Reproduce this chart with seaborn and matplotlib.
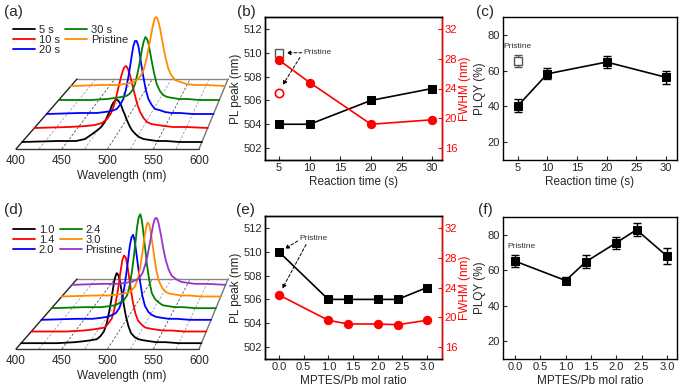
import numpy as np
import pandas as pd
import seaborn as sns
import matplotlib.pyplot as plt
from matplotlib.lines import Line2D

sns.set_theme(style="ticks")
plt.rcParams['font.family'] = ['Liberation Sans', 'DejaVu Sans']

# PL spectra (height above each baseline, px)
wavelength = [400, 440, 460, 470, 478, 484, 488, 492, 495, 498, 500, 502, 504, 506,
              508, 510, 512, 514, 516, 519, 522, 526, 530, 535, 542, 550, 560, 575, 600]

time_labels = ['5 s', '10 s', '20 s', '30 s', 'Pristine']
time_colors = ['black', 'red', 'blue', 'green', '#FF8C00']
spec_5s = [0, 1, 1, 3, 8, 12, 15, 20, 26, 32, 37, 40, 42, 42, 40, 37, 32, 28, 23, 17, 12, 8, 5, 3, 2, 1, 1, 0, 0]
spec_10s = [0, 1, 2, 3, 5, 9, 14, 23, 33, 44, 51, 57, 61, 62, 59, 54, 47, 40, 33, 23, 16, 10, 6, 4, 3, 2, 1, 1, 0]
spec_20s = [0, 1, 1, 2, 3, 5, 9, 15, 24, 37, 47, 58, 68, 73, 73, 68, 58, 47, 37, 24, 15, 9, 5, 4, 2, 1, 1, 0, 0]
spec_30s = [0, 0, 1, 2, 3, 4, 6, 10, 16, 26, 34, 43, 52, 59, 63, 61, 56, 47, 38, 26, 16, 9, 5, 3, 2, 1, 1, 0, 0]
spec_pristine_a = [0, 1, 1, 2, 3, 5, 8, 12, 18, 27, 35, 43, 51, 59, 66, 69, 68, 63, 56, 43, 31, 18, 11, 6, 4, 2, 1, 1, 0]

ratio_labels = ['1.0', '1.4', '2.0', '2.4', '3.0', 'Pristine']
ratio_colors = ['black', 'red', 'blue', 'green', '#FF8C00', '#9933CC']
spec_r10 = [0, 0, 1, 2, 3, 4, 7, 12, 20, 33, 43, 55, 65, 70, 68, 60, 49, 38, 28, 17, 10, 6, 4, 3, 2, 1, 1, 0, 0]
spec_r14 = [0, 0, 1, 2, 3, 4, 8, 13, 22, 36, 47, 60, 71, 76, 74, 65, 53, 41, 30, 18, 11, 7, 4, 3, 2, 1, 1, 0, 0]
spec_r20 = [0, 1, 1, 2, 3, 5, 7, 12, 20, 34, 46, 59, 73, 82, 85, 79, 66, 53, 40, 24, 14, 8, 5, 3, 2, 1, 1, 0, 0]
spec_r24 = [0, 1, 1, 2, 3, 6, 8, 13, 22, 38, 51, 65, 81, 91, 94, 87, 73, 59, 44, 27, 15, 9, 6, 3, 2, 1, 1, 0, 0]
spec_r30 = [0, 1, 1, 2, 3, 4, 6, 10, 16, 26, 36, 47, 59, 69, 74, 72, 64, 53, 42, 26, 16, 9, 5, 3, 2, 1, 1, 0, 0]
spec_pristine_d = [0, 1, 1, 2, 3, 5, 7, 12, 19, 28, 36, 44, 53, 61, 66, 67, 64, 57, 49, 36, 25, 15, 9, 6, 3, 2, 1, 1, 0]

# (b), (c): reaction time series
react_time = [5, 10, 20, 30]
pl_peak_time = [504, 504, 506, 507]
fwhm_time = [27.8, 24.8, 19.2, 19.8]
plqy_time = [40.3, 58.2, 64.8, 56.3]
plqy_time_err = [3.7, 3.0, 3.6, 3.7]
pristine_pl_peak = 510
pristine_fwhm = 23.4
pristine_plqy = 65.3
pristine_plqy_err = 3.5

# (e), (f): MPTES/Pb ratio series
mol_ratio = [0.0, 1.0, 1.4, 2.0, 2.4, 3.0]
pl_peak_ratio = [510, 506, 506, 506, 506, 507]
fwhm_ratio = [23.0, 19.6, 19.1, 19.1, 19.0, 19.6]
plqy_ratio = [65.1, 54.2, 64.8, 75.5, 82.8, 68.0]
plqy_ratio_err = [3.5, 2.0, 3.7, 3.5, 3.7, 4.4]

W, H = 685, 388
fig = plt.figure(figsize=(W / 100, H / 100), dpi=100)


def px_axes(left, top, right, bottom):
    return fig.add_axes([left / W, 1 - bottom / H, (right - left) / W, (bottom - top) / H])


# pseudo-3D waterfall: depth t in [0, 1] shifts right, narrows and lifts
SHIFT, SHRINK, DEPTH = 66.7, 0.175, 70


def project(w, t):
    return 400 + SHIFT * t + (np.asarray(w, float) - 400) * (1 - SHRINK * t), DEPTH * t


def waterfall(ax, labels, colors, spectra):
    n = len(labels)
    # base plane and guide lines
    for w in range(425, 600, 25):
        (x0, y0), (x1, y1) = project(w, 0), project(w, 1)
        c = '#555555' if w % 50 == 0 else '#9999cc'
        ax.plot([x0, x1], [y0, y1], color=c, lw=0.6, ls=(0, (3, 2)), clip_on=False)
    corners = [project(400, 0), project(600, 0), project(600, 1), project(400, 1)]
    edge_cols = ['#333333', '#777777', '#888888', '#222222']
    for i in range(4):
        a, b = corners[i], corners[(i + 1) % 4]
        ax.plot([a[0], b[0]], [a[1], b[1]], color=edge_cols[i], lw=1.0, clip_on=False)

    rows = []
    for k, (lab, inten) in enumerate(zip(labels, spectra)):
        t = (k + 0.5) / n
        xs, base = project(wavelength, t)
        for x, v in zip(xs, inten):
            rows.append((lab, x, base + v))
    df = pd.DataFrame(rows, columns=['series', 'x', 'y'])
    sns.lineplot(data=df, x='x', y='y', hue='series', hue_order=labels, palette=colors,
                 sort=False, estimator=None, lw=1.3, legend=False, ax=ax)

    ax.set_xlim(398, 634)
    ax.set_ylim(-3, 140)
    ax.set_xticks([400, 450, 500, 550, 600])
    ax.set_yticks([])
    ax.tick_params(axis='x', length=0, pad=2.5, labelsize=8.5)
    for s in ax.spines.values():
        s.set_visible(False)
    ax.patch.set_alpha(0)
    ax.set_xlabel('Wavelength (nm)', fontsize=8.5, labelpad=2)
    ax.set_ylabel('')
    handles = [Line2D([], [], color=c, lw=1.3) for c in colors]
    ax.legend(handles, labels, loc='upper left', bbox_to_anchor=(-0.005, 0.89), ncol=2,
              frameon=False, fontsize=8, handlelength=2.0, handletextpad=0.3,
              columnspacing=0.5, labelspacing=0.0, borderpad=0, borderaxespad=0)


def style_box(ax, labelsize=8):
    ax.tick_params(direction='in', length=3, width=0.8, labelsize=labelsize, pad=2)
    for s in ax.spines.values():
        s.set_color('black')
        s.set_linewidth(1.0)


def arrow(ax, start, end):
    ax.annotate('', xy=end, xytext=start,
                arrowprops=dict(arrowstyle='-|>', color='black', lw=0.7,
                                ls=(0, (3, 2)), mutation_scale=6, shrinkA=0, shrinkB=0))


# (a) and (d)
ax_a = px_axes(14.2, 9, 230.1, 152)
waterfall(ax_a, time_labels, time_colors,
          [spec_5s, spec_10s, spec_20s, spec_30s, spec_pristine_a])
ax_d = px_axes(14.2, 209, 230.1, 352)
waterfall(ax_d, ratio_labels, ratio_colors,
          [spec_r10, spec_r14, spec_r20, spec_r24, spec_r30, spec_pristine_d])


def peak_fwhm(ax, x, peak, fwhm, xlim, xticks, xlabel):
    sns.lineplot(x=x, y=peak, color='black', marker='s', markersize=5.5,
                 markeredgecolor='black', lw=1.2, ax=ax)
    ax.set_xlim(*xlim)
    ax.set_ylim(501, 513)
    ax.set_xticks(xticks)
    ax.set_yticks(range(502, 513, 2))
    ax.set_xlabel(xlabel, fontsize=8.5, labelpad=2)
    ax.set_ylabel('PL peak (nm)', fontsize=8.5, labelpad=1)
    style_box(ax)
    ax2 = ax.twinx()
    sns.lineplot(x=x, y=fwhm, color='red', marker='o', markersize=6,
                 markeredgecolor='red', lw=1.2, ax=ax2)
    ax2.set_ylim(14.4, 33.6)
    ax2.set_yticks(range(16, 33, 4))
    ax2.set_ylabel('FWHM (nm)', color='red', fontsize=8.5, labelpad=1.5)
    style_box(ax2)
    ax2.tick_params(axis='y', colors='red')
    ax2.spines['right'].set_color('red')
    return ax2


# (b)
ax_b = px_axes(265, 17, 442, 160)
ax_b2 = peak_fwhm(ax_b, react_time, pl_peak_time, fwhm_time, (2.7, 31.6),
                  range(5, 31, 5), 'Reaction time (s)')
ax_b.plot([react_time[0]], [pristine_pl_peak], 's', mfc='white', mec='#555555', ms=5.5, mew=1)
ax_b2.plot([react_time[0]], [pristine_fwhm], 'o', mfc='white', mec='red', ms=6, mew=1.2)
ax_b.text(8.9, 510, 'Pristine', fontsize=6, ha='left', va='center', color='#333333')
arrow(ax_b, (8.7, 510), (6.2, 510))
arrow(ax_b, (8.4, 509.6), (5.6, 507.3))

# (e)
ax_e = px_axes(265, 216, 442, 359)
peak_fwhm(ax_e, mol_ratio, pl_peak_ratio, fwhm_ratio, (-0.28, 3.3),
          np.arange(0, 3.01, 0.5), 'MPTES/Pb mol ratio')
ax_e.text(0.42, 511.1, 'Pristine', fontsize=6, ha='left', va='center', color='#333333')
arrow(ax_e, (0.38, 510.9), (0.12, 510.25))
arrow(ax_e, (0.55, 510.6), (0.07, 506.9))


def plqy(ax, x, y, err, xlim, xticks, xlabel):
    ax.errorbar(x, y, yerr=err, fmt='none', ecolor='black', elinewidth=1, capsize=3, capthick=1)
    sns.lineplot(x=x, y=y, color='black', marker='s', markersize=5.5,
                 markeredgecolor='black', lw=1.2, ax=ax)
    ax.set_xlim(*xlim)
    ax.set_ylim(10, 90)
    ax.set_xticks(xticks)
    ax.set_yticks([20, 40, 60, 80])
    ax.set_xlabel(xlabel, fontsize=8.5, labelpad=2)
    ax.set_ylabel('PLQY (%)', fontsize=8.5, labelpad=1)
    style_box(ax)


# (c)
ax_c = px_axes(503, 17, 677, 160)
plqy(ax_c, react_time, plqy_time, plqy_time_err, (2.5, 31.9), range(5, 31, 5),
     'Reaction time (s)')
ax_c.errorbar([react_time[0]], [pristine_plqy], yerr=[pristine_plqy_err], fmt='s',
              mfc='white', mec='#555555', ms=5.5, mew=1, ecolor='#555555',
              elinewidth=1, capsize=3, capthick=1)
ax_c.text(react_time[0], pristine_plqy + 8.3, 'Pristine', fontsize=6, ha='center',
          va='center', color='#333333')

# (f)
ax_f = px_axes(503, 217, 677, 359)
plqy(ax_f, mol_ratio, plqy_ratio, plqy_ratio_err, (-0.24, 3.2),
     np.arange(0, 3.01, 0.5), 'MPTES/Pb mol ratio')
ax_f.text(0.12, plqy_ratio[0] + 8, 'Pristine', fontsize=6, ha='center',
          va='center', color='#333333')

for lab, (x, y) in {'(a)': (13, 12), '(b)': (246, 12), '(c)': (485, 12),
                    '(d)': (13, 210), '(e)': (245, 210), '(f)': (485, 210)}.items():
    fig.text(x / W, 1 - y / H, lab, fontsize=11, ha='center', va='center')

fig.savefig('out.png', dpi=100)
